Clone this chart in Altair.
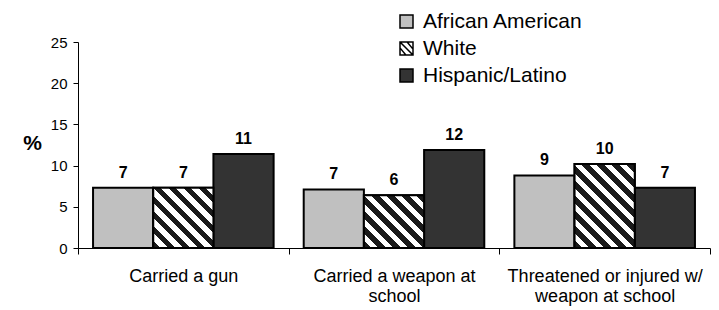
import altair as alt
import pandas as pd

# ---- data ----
categories = ["Carried a gun", "Carried a weapon at|school", "Threatened or injured w/|weapon at school"]
groups = ["African American", "White", "Hispanic/Latino"]
african_american = [7.3, 7.1, 8.8]
white = [7.3, 6.4, 10.2]
hispanic = [11.4, 11.9, 7.3]
y_ticks = [0, 5, 10, 15, 20, 25]

# ---- style ----
colors = ["#c0c0c0", "#ffffff", "#333333"]
outline = ["#000000", "#000000", "#000000"]
FONT = "Liberation Sans"
W, H = 632, 206
Y_MAX = 25
OFF_PAD = 0.25
step = W / len(categories)
bar_w = step / (len(groups) + 2 * OFF_PAD)

rows = []
for i, c in enumerate(categories):
    for g, vals in zip(groups, [african_american, white, hispanic]):
        rows.append({"category": c, "group": g, "value": vals[i]})
df = pd.DataFrame(rows)


def hatch(value, period=15.0, dark="#1a1a1a", light="#ffffff"):
    """Diagonal stripe fill built from a linear gradient with hard stops."""
    w = bar_w
    h = value * H / Y_MAX
    L = w + h
    pt = period / L
    stops = []
    k = 0
    while k * pt < 1:
        a = k * pt
        b = min(a + pt * 0.5, 1.0)
        c = min(a + pt, 1.0)
        stops += [
            {"offset": a, "color": dark},
            {"offset": b, "color": dark},
            {"offset": b, "color": light},
            {"offset": c, "color": light},
        ]
        k += 1
    kk = (w + h) / (w * w + h * h)
    return {"gradient": "linear", "x1": 0, "y1": 1, "x2": w * kk, "y2": 1 - h * kk, "stops": stops}


hatch_symbol = "M-1,-1H1V1H-1Z M-1,-1L1,1 M-1,-0.1L-0.1,1 M0.1,-1L1,0.1"
shapes = ["square", hatch_symbol, "square"]

x_enc = alt.X(
    "category:N",
    sort=categories,
    scale=alt.Scale(paddingInner=0, paddingOuter=0),
    axis=alt.Axis(
        title=None, labelAngle=0, tickBand="extent", tickSize=6, labelPadding=13,
        labelFontSize=18, labelFont=FONT, labelColor="black", labelLineHeight=20,
        labelLimit=0, labelExpr="split(datum.label, '|')",
        domainColor="black", tickColor="black",
    ),
)
xo_enc = alt.XOffset("group:N", sort=groups, scale=alt.Scale(paddingInner=0, paddingOuter=OFF_PAD))
y_enc = alt.Y(
    "value:Q",
    scale=alt.Scale(domain=[0, Y_MAX]),
    axis=alt.Axis(
        values=y_ticks, grid=False, tickSize=5, labelPadding=6,
        labelFontSize=15, labelFont=FONT, labelColor="black",
        domainColor="black", tickColor="black",
        title="%", titleAngle=0, titleFontSize=21, titleFont=FONT, titleFontWeight="bold",
        titleColor="black", titleX=-46, titleY=101, titleAlign="center", titleBaseline="middle",
    ),
)

base = alt.Chart(df).encode(x=x_enc, xOffset=xo_enc, y=y_enc)

fill_scale = alt.Scale(domain=groups, range=colors)
leg = alt.Legend(
    title=None, orient="none", legendX=318, legendY=-31, padding=0,
    symbolSize=169, symbolStrokeColor="black", symbolStrokeWidth=1.5, symbolOpacity=1,
    labelFontSize=21, labelFont=FONT, labelColor="black", labelOffset=6, rowPadding=5,
)

bars = base.mark_bar(stroke="black", strokeWidth=2).encode(
    fill=alt.Fill("group:N", sort=groups, scale=fill_scale, legend=leg)
)

hatched = [
    base.transform_filter((alt.datum.category == c) & (alt.datum.group == "White"))
    .mark_bar(stroke="black", strokeWidth=2, fill=hatch(white[i]))
    for i, c in enumerate(categories)
]

labels = base.mark_text(
    baseline="alphabetic", dy=-10, fontSize=16, fontWeight="bold", font=FONT, color="black"
).encode(text=alt.Text("value:Q", format=".0f"))

points = base.mark_point(opacity=0, filled=True, strokeWidth=1.5).encode(
    fill=alt.Fill("group:N", sort=groups, scale=fill_scale, legend=leg),
    stroke=alt.Stroke("group:N", sort=groups, scale=alt.Scale(domain=groups, range=outline), legend=leg),
    shape=alt.Shape("group:N", sort=groups, scale=alt.Scale(domain=groups, range=shapes), legend=leg),
)

chart = (
    alt.layer(bars, *hatched, labels, points)
    .properties(
        width=W, height=H,
        autosize=alt.AutoSizeParams(type="none"),
        padding={"left": 70, "top": 34, "right": 1, "bottom": 60},
    )
    .configure_view(stroke=None)
)

chart.save("out.html", embed_options={"renderer": "svg", "actions": False})
